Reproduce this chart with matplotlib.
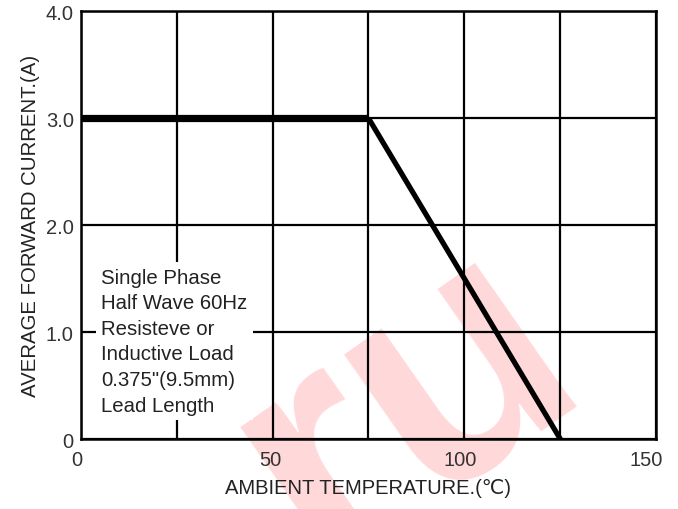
import numpy as np
import matplotlib.pyplot as plt
from matplotlib.transforms import ScaledTranslation

plt.rcParams['font.family'] = ['Liberation Sans', 'DejaVu Sans']

# derating curve
temp = [0, 75, 125]
current = [3.0, 3.0, 0.0]

x_ticks = [0, 50, 100, 150]
x_minor = [25, 75, 125]
y_ticks = [0, 1, 2, 3, 4]
y_labels = ['0', '1.0', '2.0', '3.0', '4.0']

note = ('Single Phase\nHalf Wave 60Hz\nResisteve or\n'
        'Inductive Load\n0.375"(9.5mm)\nLead Length')

fig = plt.figure(figsize=(6.78, 5.10), dpi=100)
ax = fig.add_axes([0.119, 0.137, 0.849, 0.839])

# watermark behind everything
ax.text(0.565, 0.08, 'ru', transform=ax.transAxes, fontsize=240,
        fontweight='bold', color='#ffd9d9', rotation=35,
        ha='center', va='center', clip_on=False, zorder=0.1)

ax.set_xlim(0, 150)
ax.set_ylim(0, 4)
ax.set_xticks(x_ticks)
ax.set_xticks(x_minor, minor=True)
ax.set_yticks(y_ticks)
ax.set_yticklabels(y_labels)
ax.tick_params(which='both', length=0, labelsize=14.5, labelcolor='#333333')
ax.tick_params(axis='x', pad=8)
ax.tick_params(axis='y', pad=5)
ax.grid(which='both', color='black', lw=1.6)
ax.set_axisbelow(False)
for s in ax.spines.values():
    s.set_linewidth(1.8)
    s.set_zorder(3)

# x tick labels sit a little left of their grid lines
shifts = [-4, -2, -4, -10]
for lab, dx in zip(ax.get_xticklabels(), shifts):
    lab.set_transform(lab.get_transform() + ScaledTranslation(dx / 100, 0, fig.dpi_scale_trans))

ax.plot(temp[:2], current[:2], color='black', lw=5.2, solid_capstyle='butt', zorder=4)
ax.plot(temp[1:], current[1:], color='black', lw=3.8, solid_capstyle='butt', zorder=4)

ax.text(5.3, 0.23, note, fontsize=14.7, color='#222222', linespacing=1.44,
        ha='left', va='bottom', zorder=5,
        bbox=dict(facecolor='white', edgecolor='none', pad=4))

ax.set_xlabel('AMBIENT TEMPERATURE.(\u2103)', fontsize=14.5, color='#222222', labelpad=6)
ax.set_ylabel('AVERAGE FORWARD CURRENT.(A)', fontsize=14.7, color='#222222', labelpad=4)

fig.savefig('out.png', dpi=100)
